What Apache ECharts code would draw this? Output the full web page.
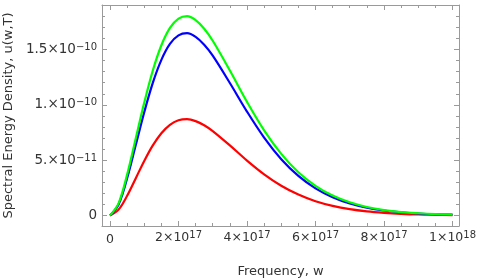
<!DOCTYPE html>
<html>
<head>
<meta charset="utf-8">
<script src="https://cdn.jsdelivr.net/npm/echarts@6/dist/echarts.min.js"></script>
<style>
html,body{margin:0;padding:0;background:#fff;}
#c{width:480px;height:278px;}
</style>
</head>
<body>
<div id="c"></div>
<script>
// Frequency in units of 1e17
const freq = [0,0.25,0.5,0.75,1,1.25,1.5,1.75,2,2.25,2.5,2.75,3,3.5,4,4.5,5,5.5,6,6.5,7,7.5,8,8.5,9,9.5,10];
// Spectral energy density in units of 1e-11
const green = [0,1.10,3.69,6.93,10.20,13.10,15.38,16.95,17.79,18.01,17.65,16.88,15.79,13.10,10.27,7.70,5.57,3.91,2.68,1.80,1.19,0.77,0.49,0.31,0.20,0.12,0.08];
const blue  = [0,1.00,3.37,6.34,9.33,11.98,14.06,15.50,16.27,16.47,16.14,15.43,14.44,11.97,9.39,7.04,5.09,3.58,2.45,1.65,1.08,0.70,0.45,0.29,0.18,0.11,0.07];
const red   = [0,0.53,1.78,3.35,4.93,6.33,7.43,8.19,8.60,8.70,8.53,8.16,7.63,6.33,4.96,3.72,2.69,1.89,1.29,0.87,0.57,0.37,0.24,0.15,0.09,0.06,0.04];

const xTicks = [0,2,4,6,8,10];
const xTickLabels = [['0',''],['2×10','17'],['4×10','17'],['6×10','17'],['8×10','17'],['1×10','18']];
const xMinor = [0.5,1,1.5,2.5,3,3.5,4.5,5,5.5,6.5,7,7.5,8.5,9,9.5];
const yTicks = [0,5,10,15];
const yTickLabels = [['0',''],['5.×10','−11'],['1.×10','−10'],['1.5×10','−10']];
const yMinor = [1,2,3,4,6,7,8,9,11,12,13,14,16,17,18];

const xMin = -0.2336, xMax = 10.19, yMin = -0.95, yMax = 19.02;

const frame = '#9a9a9a', txt = '#333';
const FONT = 'DejaVu Sans';

function fmt(ticks, labels) {
  return function (v) {
    let i = ticks.findIndex(t => Math.abs(t - v) < 1e-6);
    if (i < 0) return '';
    const l = labels[i];
    if (!l[1]) return '{z|' + l[0] + '}';
    return '{b|' + l[0] + '}{s|' + l[1] + '}';
  };
}
function mkRich(bs, ss) {
  return {
    b: {fontFamily: FONT, fontSize: bs, color: txt, lineHeight: 14, verticalAlign: 'bottom'},
    s: {fontFamily: FONT, fontSize: ss, color: txt, lineHeight: 13, verticalAlign: 'top'},
    z: {fontFamily: FONT, fontSize: bs, color: txt, lineHeight: 20}
  };
}

function mkData(ys) { return freq.map((f, i) => [f, ys[i]]); }

const gridRect = {left: 102, right: 21, top: 5, bottom: 52, outerBoundsMode: 'none', containLabel: false};

function axisCommon(extra) {
  return Object.assign({
    type: 'value', splitLine: {show: false}, axisPointer: {show: false}
  }, extra);
}

const option = {
  animation: false,
  grid: [Object.assign({}, gridRect), Object.assign({}, gridRect)],
  xAxis: [
    axisCommon({gridIndex: 0, position: 'bottom', min: xMin, max: xMax,
      axisLine: {show: true, onZero: false, lineStyle: {color: frame, width: 1}},
      axisTick: {show: true, inside: true, length: 5, customValues: xTicks, lineStyle: {color: frame}},
      axisLabel: {show: true, customValues: xTicks, margin: 4, formatter: fmt(xTicks, xTickLabels), rich: mkRich(12.5, 10)},
      name: 'Frequency, w', nameLocation: 'middle', nameGap: 39,
      nameTextStyle: {fontFamily: FONT, fontSize: 13, color: txt}}),
    axisCommon({gridIndex: 0, position: 'top', min: xMin, max: xMax,
      axisLine: {show: true, onZero: false, lineStyle: {color: frame, width: 1}},
      axisTick: {show: true, inside: true, length: 5, customValues: xTicks, lineStyle: {color: frame}},
      axisLabel: {show: false}}),
    axisCommon({gridIndex: 1, position: 'bottom', min: xMin, max: xMax,
      axisLine: {show: false, onZero: false},
      axisTick: {show: true, inside: true, length: 3, customValues: xMinor, lineStyle: {color: frame}},
      axisLabel: {show: false}}),
    axisCommon({gridIndex: 1, position: 'top', min: xMin, max: xMax,
      axisLine: {show: false, onZero: false},
      axisTick: {show: true, inside: true, length: 3, customValues: xMinor, lineStyle: {color: frame}},
      axisLabel: {show: false}})
  ],
  yAxis: [
    axisCommon({gridIndex: 0, position: 'left', min: yMin, max: yMax,
      axisLine: {show: true, onZero: false, lineStyle: {color: frame, width: 1}},
      axisTick: {show: true, inside: true, length: 5, customValues: yTicks, lineStyle: {color: frame}},
      axisLabel: {show: true, customValues: yTicks, margin: 5, formatter: fmt(yTicks, yTickLabels), rich: mkRich(13.5, 10)},
      name: 'Spectral Energy Density, u(w,T)', nameLocation: 'middle', nameGap: 86,
      nameTextStyle: {fontFamily: FONT, fontSize: 13, color: txt}}),
    axisCommon({gridIndex: 0, position: 'right', min: yMin, max: yMax,
      axisLine: {show: true, onZero: false, lineStyle: {color: frame, width: 1}},
      axisTick: {show: true, inside: true, length: 5, customValues: yTicks, lineStyle: {color: frame}},
      axisLabel: {show: false}}),
    axisCommon({gridIndex: 1, position: 'left', min: yMin, max: yMax,
      axisLine: {show: false, onZero: false},
      axisTick: {show: true, inside: true, length: 3, customValues: yMinor, lineStyle: {color: frame}},
      axisLabel: {show: false}}),
    axisCommon({gridIndex: 1, position: 'right', min: yMin, max: yMax,
      axisLine: {show: false, onZero: false},
      axisTick: {show: true, inside: true, length: 3, customValues: yMinor, lineStyle: {color: frame}},
      axisLabel: {show: false}})
  ],
  series: [
    {type: 'line', xAxisIndex: 0, yAxisIndex: 0, data: mkData(red), smooth: 0.35, showSymbol: false, symbol: 'none',
      lineStyle: {color: '#ff0000', width: 2.2}},
    {type: 'line', xAxisIndex: 0, yAxisIndex: 0, data: mkData(blue), smooth: 0.35, showSymbol: false, symbol: 'none',
      lineStyle: {color: '#0000ff', width: 2.2}},
    {type: 'line', xAxisIndex: 0, yAxisIndex: 0, data: mkData(green), smooth: 0.35, showSymbol: false, symbol: 'none',
      lineStyle: {color: '#00ff00', width: 2.2}}
  ]
};
const chart = echarts.init(document.getElementById('c'), null, {renderer: 'canvas'});
chart.setOption(option);
</script>
</body>
</html>
